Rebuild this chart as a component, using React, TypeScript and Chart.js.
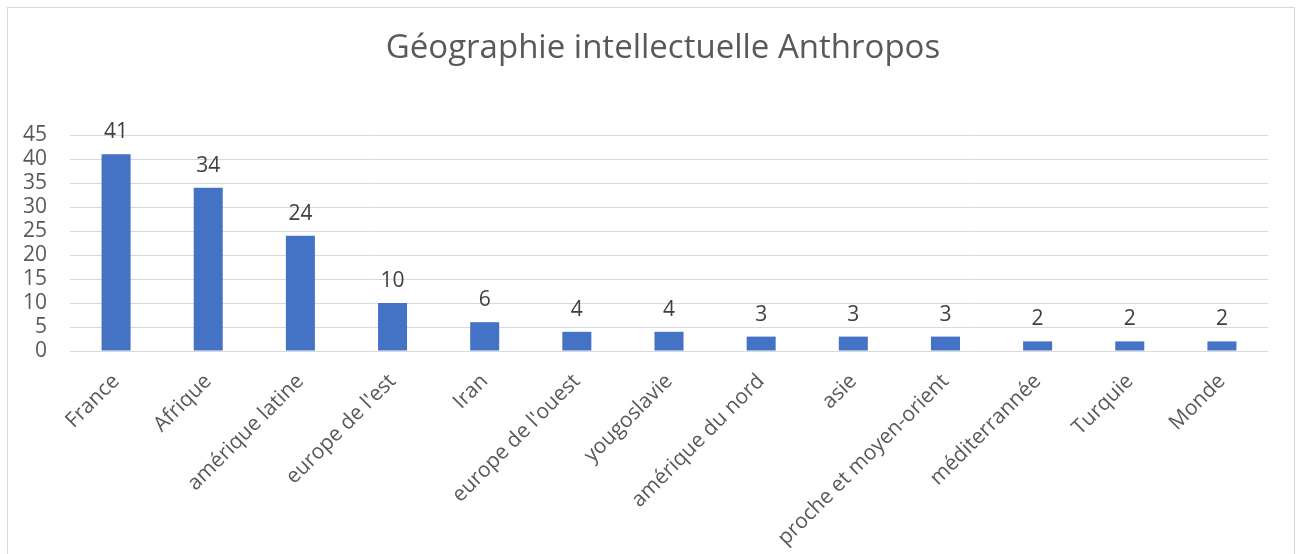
import React, { useEffect, useRef } from "react";
import { Chart, registerables } from "chart.js";

Chart.register(...registerables);

const categories = [
  "France",
  "Afrique",
  "amérique latine",
  "europe de l'est",
  "Iran",
  "europe de l'ouest",
  "yougoslavie",
  "amérique du nord",
  "asie",
  "proche et moyen-orient",
  "méditerrannée",
  "Turquie",
  "Monde",
];
const values = [41, 34, 24, 10, 6, 4, 4, 3, 3, 3, 2, 2, 2];
const titleText = "Géographie intellectuelle Anthropos";

const FONT = "'Open Sans', 'Noto Sans', sans-serif";

const dataLabels = {
  id: "dataLabels",
  afterDatasetsDraw(chart: any) {
    const ctx = chart.ctx;
    const meta = chart.getDatasetMeta(0);
    ctx.save();
    ctx.font = `21px ${FONT}`;
    ctx.fillStyle = "#404040";
    ctx.textAlign = "center";
    ctx.textBaseline = "middle";
    meta.data.forEach((bar: any, i: number) => {
      ctx.fillText(String(values[i]), bar.x, bar.y - 22);
    });
    ctx.restore();
  },
};

const titlePlugin = {
  id: "customTitle",
  afterDraw(chart: any) {
    const ctx = chart.ctx;
    ctx.save();
    ctx.font = `33px ${FONT}`;
    ctx.fillStyle = "#595959";
    ctx.textAlign = "center";
    ctx.textBaseline = "middle";
    ctx.fillText(titleText, 663, 49);
    ctx.restore();
  },
};

export default function App() {
  const ref = useRef<HTMLCanvasElement>(null);
  useEffect(() => {
    if (!ref.current) return;
    const chart = new Chart(ref.current, {
      type: "bar",
      data: {
        labels: categories,
        datasets: [
          {
            data: values,
            backgroundColor: "#4472C4",
            borderWidth: 0,
            categoryPercentage: 1,
            barPercentage: 0.315,
          },
        ],
      },
      options: {
        animation: false,
        responsive: false,
        maintainAspectRatio: false,
        layout: { padding: { left: 0, right: 32, top: 135, bottom: 0 } },
        plugins: {
          legend: { display: false },
          tooltip: { enabled: false },
          title: { display: false },
        },
        scales: {
          x: {
            grid: { display: false, drawTicks: false },
            border: { display: false },
            ticks: {
              color: "#595959",
              font: { family: FONT, size: 21 },
              maxRotation: 45,
              minRotation: 45,
              padding: 18,
              autoSkip: false,
            },
            afterFit(scale: any) {
              scale.height = 203;
            },
          },
          y: {
            min: 0,
            max: 45,
            ticks: {
              stepSize: 5,
              autoSkip: false,
              color: "#595959",
              font: { family: FONT, size: 21 },
              padding: 23,
            },
            grid: { color: "#d9d9d9", lineWidth: 1, drawTicks: false },
            border: { display: false },
            afterFit(scale: any) {
              scale.width = 70;
            },
          },
        },
      },
      plugins: [dataLabels, titlePlugin],
    });
    return () => chart.destroy();
  }, []);

  return (
    <div style={{ position: "fixed", left: 0, top: 0, width: 1300, height: 554, overflow: "hidden", background: "#fff" }}>
      <div
        style={{
          position: "absolute",
          left: 7,
          top: 7,
          width: 1288,
          height: 600,
          border: "1px solid #d9d9d9",
          boxSizing: "border-box",
        }}
      />
      <canvas ref={ref} width={1300} height={554} style={{ position: "absolute", left: 0, top: 0 }} />
    </div>
  );
}
